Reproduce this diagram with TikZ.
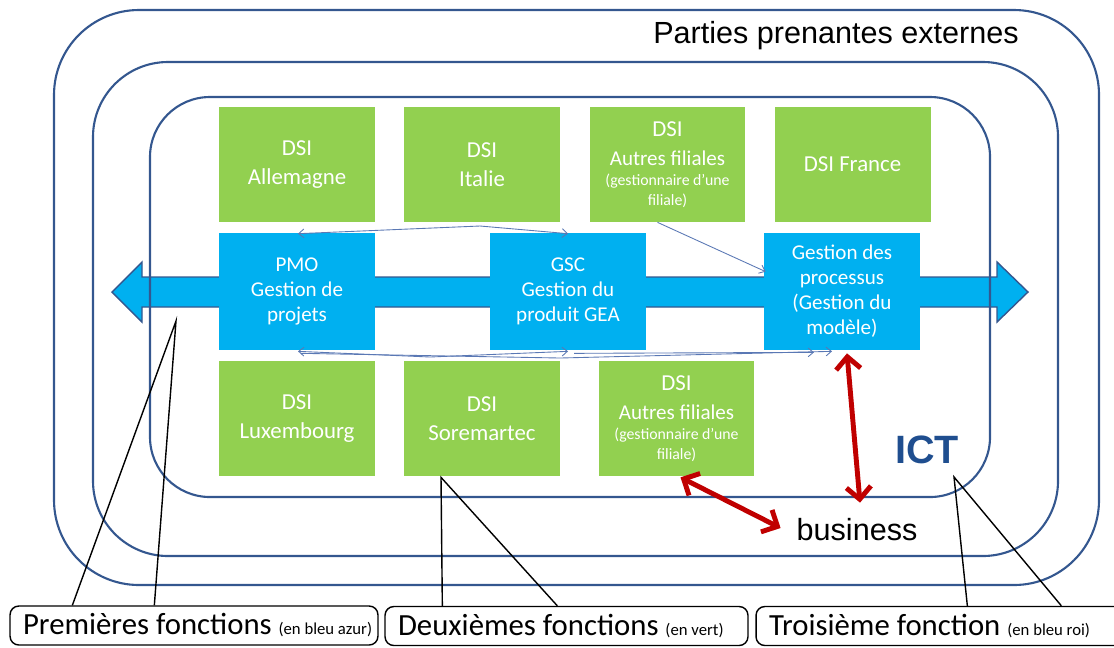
\documentclass[tikz,border=0pt]{standalone}
\usepackage{fontspec}
\setmainfont{Carlito}
\newfontfamily\arialfont{Liberation Sans}
\usetikzlibrary{arrows.meta, calc}
\definecolor{ringblue}{HTML}{34578F}
\definecolor{fnblue}{HTML}{00B0F0}
\definecolor{dsigreen}{HTML}{92D050}
\definecolor{linkblue}{HTML}{5A78B4}
\definecolor{bizred}{HTML}{C00000}
\definecolor{ictblue}{HTML}{1F4E8F}
\tikzset{
    ring/.style = {draw=ringblue, line width=1.2pt},
    dsi/.style = {rectangle, fill=dsigreen, text=white, align=center, minimum width=3.12cm, minimum height=2.3cm, inner sep=1pt, font=\fontsize{13}{16.4}\selectfont},
    fn/.style = {rectangle, fill=fnblue, text=white, align=center, minimum width=3.12cm, minimum height=2.34cm, inner sep=1pt, font=\fontsize{12}{14.2}\selectfont},
    legend/.style = {rectangle, draw, rounded corners=5pt, line width=0.8pt, minimum height=0.78cm, inner xsep=0.26cm, font=\fontsize{17.5}{20}\selectfont},
    link/.style = {draw=linkblue, line width=0.5pt, -{Straight Barb[length=3pt,width=5pt]}},
    duallink/.style = {link, {Straight Barb[length=3pt,width=5pt]}-{Straight Barb[length=3pt,width=5pt]}},
    bizline/.style = {draw=bizred, line width=2.8pt, {Straight Barb[length=7pt,width=14pt]}-{Straight Barb[length=7pt,width=14pt]}},
    callout/.style = {draw, line width=0.8pt}
}
\newcommand{\filiale}{DSI\\{\fontsize{12}{14}\selectfont Autres filiales}\\[-5pt]{\fontsize{9}{11}\selectfont (gestionnaire d'une}\\[-5pt]{\fontsize{9}{11}\selectfont filiale)}}
\newcommand{\legparen}[1]{{\fontsize{9.5}{11}\selectfont(#1)}}

\begin{document}
\begin{tikzpicture}[x=0.02cm, y=-0.02cm]
        \useasboundingbox (0,0) rectangle (1114,647);

        % Band of first functions
        \filldraw [fill=fnblue, draw=ringblue, line width=0.8pt]
            (112,292) -- (142,262) -- (142,277) -- (997,277) -- (997,262) -- (1028,292)
            -- (997,322) -- (997,307) -- (142,307) -- (142,322) -- cycle;

        % Circles of actors
        \draw [ring, rounded corners=1.7cm] (54,10) rectangle (1099,585);
        \draw [ring, rounded corners=1.5cm] (93,62) rectangle (1058,556);
        \draw [ring, rounded corners=1.2cm] (150,97) rectangle (990,497);

        \node [font=\arialfont\fontsize{17.4}{20}\selectfont] (ext) at (836,36) {Parties prenantes externes};
        \node [font=\arialfont\bfseries\fontsize{22.5}{26}\selectfont, text=ictblue, inner sep=0pt] (ict) at (927,450) {ICT};
        \node [font=\arialfont\fontsize{17.4}{20}\selectfont, inner sep=1pt] (business) at (857,530) {business};

        % DSI
        \node [dsi] (allemagne) at (297,164.5) {DSI\\Allemagne};
        \node [dsi] (italie) at (482,164.5) {DSI\\Italie};
        \node [dsi] (autres1) at (667.5,164.5) {\filiale};
        \node [dsi] (france) at (852.5,164.5) {DSI France};
        \node [dsi] (luxembourg) at (297,418.5) {DSI\\Luxembourg};
        \node [dsi] (soremartec) at (482,418.5) {DSI\\Soremartec};
        \node [dsi] (autres2) at (676.5,418.5) {\filiale};

        % Functions
        \node [fn] (pmo) at (297,291.5) {PMO\\Gestion de\\projets};
        \node [fn] (gsc) at (568,291.5) {GSC\\Gestion du\\produit GEA};
        \node [fn] (proc) at (842,291.5) {Gestion des\\processus\\(Gestion du\\modèle)};

        % Links
        \path [duallink] ($(pmo.north)+(1,1)$) -- (480,226) -- ($(gsc.north)+(0,1)$);
        \path [link] ($(autres1.south)+(-10,0)$) -- ($(proc.north west)+(2,39)$);
        \path [duallink] ($(pmo.south)+(1,1)$) -- (430,357) -- ($(gsc.south)+(0,1)$);
        \path [link] ($(pmo.south)+(4,3)$) -- (560,358) -- ($(proc.south)+(-10,1)$);
        \path [link] ($(gsc.south)+(6,3)$) -- ($(proc.south)+(-28,2)$);

        \path [bizline] ($(proc.south)+(5,3)$) -- ($(business.north)+(3,-14)$);
        \path [bizline] ($(autres2.south)+(4,1)$) -- ($(business.west)+(-14,-2)$);

        % Legend
        \node [legend] (lab1) at (194,625.5) {\makebox[6.84cm][l]{Premières fonctions \legparen{en bleu azur}}};
        \node [legend] (lab2) at (566.5,626) {\makebox[6.74cm][l]{Deuxièmes fonctions \legparen{en vert}}};
        \node [legend] (lab3) at (943,626) {\makebox[6.96cm][l]{Troisième fonction \legparen{en bleu roi}}};

        \coordinate (tip1) at (176,321);
        \coordinate (tip3) at (954,477);
        \path [callout] ($(lab1.north west)+(63,0)$) -- (tip1) -- ($(lab1.north west)+(145,0)$);
        \path [callout] ($(lab2.north west)+(58,0)$) -- ($(soremartec.south)+(-41,1)$) -- ($(lab2.north west)+(173,0)$);
        \path [callout] ($(lab3.north west)+(212,0)$) -- (tip3) -- ($(lab3.north west)+(306,0)$);

    \end{tikzpicture}
\end{document}
